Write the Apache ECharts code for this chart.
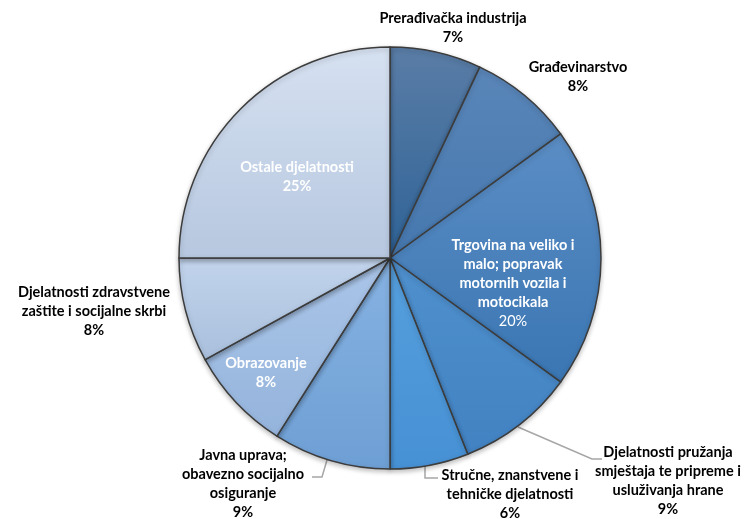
<!DOCTYPE html>
<html>
<head>
<meta charset="utf-8">
<script src="https://cdn.jsdelivr.net/npm/echarts@6/dist/echarts.min.js"></script>
<style>
  html, body { margin: 0; padding: 0; background: #fff; }
  #chart { width: 753px; height: 519px; }
</style>
</head>
<body>
<div id="chart"></div>
<script>
// djelatnosti (kategorije), redom u smjeru kazaljke od vrha
var categories = [
  "Prerađivačka industrija",
  "Građevinarstvo",
  "Trgovina na veliko i\nmalo; popravak\nmotornih vozila i\nmotocikala",
  "Djelatnosti pružanja\nsmještaja te pripreme i\nusluživanja hrane",
  "Stručne, znanstvene i\ntehničke djelatnosti",
  "Javna uprava;\nobavezno socijalno\nosiguranje",
  "Obrazovanje",
  "Djelatnosti zdravstvene\nzaštite i socijalne skrbi",
  "Ostale djelatnosti"
];
var values = [7, 8, 20, 9, 6, 9, 8, 8, 25];

// boje (vrh, dno) za gradijent svakog isječka
var colorTop = ["#5a7da6", "#5a86b9", "#5b8dc4", "#4f90cd", "#56a0de", "#86b2e2", "#aac5e8", "#c2d4ec", "#d6e1f1"];
var colorBottom = ["#2f6397", "#4577ae", "#3a76b3", "#4282c2", "#4690d4", "#6e9fd4", "#95b4dc", "#a9bfdc", "#b6c7df"];

// gdje stoji natpis i je li unutra (bijeli)
var labelPos = [
  [453, 28], [578, 77], [513, 283], [668, 481], [510, 494],
  [243, 484], [266, 373], [94, 311], [297, 177]
];
var inside = [false, false, true, false, false, false, true, false, true];
var linePts = {
  3: [[518, 427], [592, 459], [602, 459]],
  4: [[425, 465], [425, 478], [438, 478]],
  5: [[327, 460], [322, 477], [312, 477]]
};

var chart = echarts.init(document.getElementById("chart"));

var data = categories.map(function (name, i) {
  return {
    name: name,
    value: values[i],
    itemStyle: {
      color: {
        type: "linear", x: 0, y: 0, x2: 0, y2: 1,
        colorStops: [
          { offset: 0, color: colorTop[i] },
          { offset: 1, color: colorBottom[i] }
        ]
      }
    },
    label: { color: inside[i] ? "#ffffff" : "#000000" },
    labelLine: { show: !!linePts[i] }
  };
});

chart.setOption({
  animation: false,
  series: [
    {
      type: "pie",
      center: [390, 258],
      radius: 211,
      startAngle: 90,
      clockwise: true,
      itemStyle: {
        borderColor: "#3c3c3c",
        borderWidth: 1.5,
        shadowColor: "rgba(0,0,0,0.25)",
        shadowBlur: 5,
        shadowOffsetY: 2
      },
      label: {
        show: true,
        position: "outside",
        alignTo: "none",
        overflow: "none",
        fontFamily: "Lato",
        fontSize: 14.5,
        fontWeight: "bold",
        lineHeight: 19,
        align: "center",
        formatter: function (p) {
          var pct = p.dataIndex === 2 ? "{n|" + p.value + "%}" : p.value + "%";
          return p.name + "\n" + pct;
        },
        rich: {
          n: { fontWeight: "normal", fontSize: 14.5, fontFamily: "Lato", lineHeight: 19, color: "#ffffff" }
        }
      },
      labelLine: {
        lineStyle: { color: "#a6a6a6", width: 1.5 }
      },
      labelLayout: function (p) {
        var pos = labelPos[p.dataIndex];
        var out = {
          x: pos[0],
          y: pos[1],
          align: "center",
          verticalAlign: "middle",
          hideOverlap: false,
          moveOverlap: false
        };
        if (linePts[p.dataIndex]) out.labelLinePoints = linePts[p.dataIndex];
        return out;
      },
      data: data
    }
  ]
});
</script>
</body>
</html>
